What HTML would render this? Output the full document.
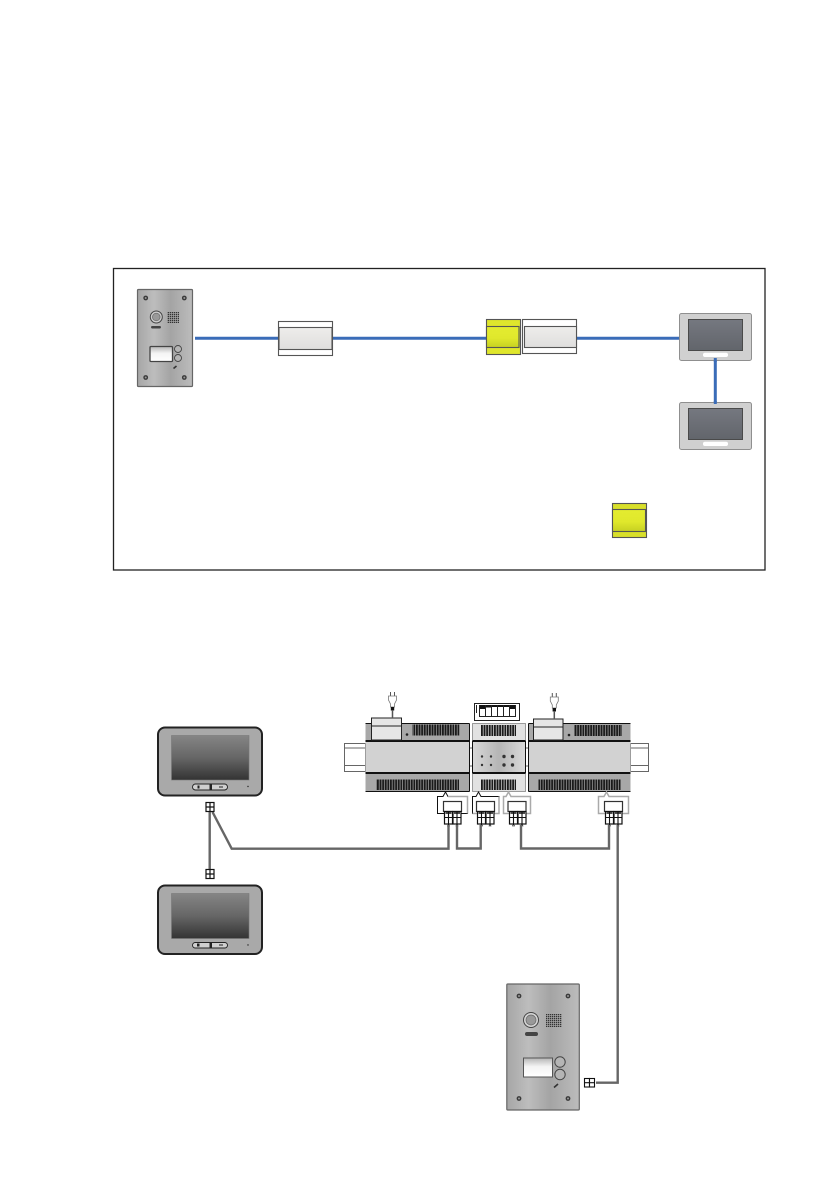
<!DOCTYPE html>
<html><head><meta charset="utf-8"><title>Wiring diagram</title>
<style>html,body{margin:0;padding:0;background:#fff}svg{display:block}</style></head>
<body>
<svg xmlns="http://www.w3.org/2000/svg" width="840" height="1192" viewBox="0 0 840 1192">
<defs>
<linearGradient id="steel" x1="0" x2="1" y1="0" y2="0"><stop offset="0" stop-color="#a6a6a6"/><stop offset=".3" stop-color="#bdbdbd"/><stop offset=".6" stop-color="#a4a4a4"/><stop offset="1" stop-color="#bcbcbc"/></linearGradient>
<linearGradient id="wg" x1="0" x2="0" y1="0" y2="1"><stop offset="0" stop-color="#eeedeb"/><stop offset="1" stop-color="#dfdedd"/></linearGradient>
<linearGradient id="pl" x1="0" x2="0" y1="0" y2="1"><stop offset="0" stop-color="#b5b5b5"/><stop offset=".45" stop-color="#f4f4f4"/><stop offset="1" stop-color="#ffffff"/></linearGradient>
<linearGradient id="yg" x1="0" x2="0" y1="0" y2="1"><stop offset="0" stop-color="#e4ec30"/><stop offset=".55" stop-color="#e0e82c"/><stop offset="1" stop-color="#c6d022"/></linearGradient>
<linearGradient id="sg" x1="0" x2="0" y1="0" y2="1"><stop offset="0" stop-color="#757880"/><stop offset="1" stop-color="#62656b"/></linearGradient>
<linearGradient id="dk" x1="0" x2="0" y1="0" y2="1"><stop offset="0" stop-color="#858585"/><stop offset=".5" stop-color="#666"/><stop offset="1" stop-color="#333"/></linearGradient>
<linearGradient id="mid" x1="0" x2="1" y1="0" y2="0"><stop offset="0" stop-color="#d8d8d8"/><stop offset=".5" stop-color="#b5b5b5"/><stop offset="1" stop-color="#dadada"/></linearGradient>
<pattern id="vent" width="2.6" height="4" patternUnits="userSpaceOnUse"><rect width="1.900" height="4" fill="#1a1a1a"/></pattern>
<pattern id="gr" width="2" height="2" patternUnits="userSpaceOnUse"><rect width="1.300" height="1.300" fill="#333"/></pattern>
<g id="screw"><circle r="2.400" fill="#3a3a3a"/><circle r="1" fill="#999"/></g>
<g id="term" fill="#fff" stroke="#111" stroke-width="1.200">
<rect x="0" y="0" width="8" height="12.500"/><rect x="8.500" y="0" width="8" height="12.500"/>
<path d="M0 6h8M8.500 6h8M4 0v12.500M12.500 0v12.500" stroke-width="1.100"/>
<path d="M1 1.500h6M9.500 1.500h6" stroke-width="1.400"/>
<path d="M4 12.500l-1 2h2zM12.500 12.500l-1 2h2z" stroke-width=".6"/>
</g>
<g id="conn" fill="#fff" stroke="#111" stroke-width="1.200"><rect x="0" y="0" width="8" height="9"/><path d="M4 0v9M0 4.500h8"/></g>
<g id="plug" fill="none"><path d="M-2 0v4M2 0v4" stroke="#555" stroke-width="1"/><path d="M-4 4h8v4l-2 4v3h-4v-3l-2-4z" fill="#fff" stroke="#777" stroke-width=".8"/><rect x="-1.700" y="15" width="3.400" height="3.500" fill="#111"/><path d="M0 18v8" stroke="#555" stroke-width="1.500"/></g>
</defs>

<rect x="113.500" y="268.500" width="651.500" height="301.500" fill="#fff" stroke="#222" stroke-width="1.300"/>

<!-- blue lines -->
<g stroke="#3a6cb8" stroke-width="3" fill="none">
<path d="M195 338.300H280M332 338.300H487M576 338.300H681M715.300 359V404"/>
</g>

<!-- small door panel -->
<rect x="137.500" y="289.500" width="55" height="97" rx="1" fill="url(#steel)" stroke="#666" stroke-width="1.200"/>
<use href="#screw" x="145.700" y="298"/><use href="#screw" x="184.300" y="298"/><use href="#screw" x="145.700" y="377.500"/><use href="#screw" x="184.300" y="377.500"/>
<circle cx="156.300" cy="317" r="6" fill="#ccc" stroke="#444"/><circle cx="156.300" cy="317" r="3.800" fill="#999" stroke="#666" stroke-width=".7"/>
<rect x="167" y="312" width="12" height="11" fill="url(#gr)"/>
<rect x="151" y="326" width="10" height="2.500" rx="1.200" fill="#444"/>
<rect x="150" y="346.500" width="22.500" height="15" rx="1" fill="url(#pl)" stroke="#444" stroke-width="1.300"/>
<circle cx="178" cy="349" r="3.500" fill="#b5b5b5" stroke="#444" stroke-width=".9"/><circle cx="178" cy="358" r="3.500" fill="#b5b5b5" stroke="#444" stroke-width=".9"/>
<path d="M173.500 368.500l3-2.500" stroke="#333" stroke-width="1.600"/>

<!-- white box 1 -->
<rect x="278.500" y="321.500" width="54" height="34" fill="#fff" stroke="#555" stroke-width="1.100"/>
<rect x="279" y="327.500" width="53" height="22" fill="url(#wg)" stroke="#555" stroke-width="1.100"/>

<!-- yellow + white pair -->
<rect x="486.500" y="319.500" width="34" height="35" fill="#dfe62c" stroke="#555" stroke-width="1.100"/>
<rect x="486.500" y="326.500" width="32.500" height="21" fill="url(#yg)" stroke="#555" stroke-width="1.100"/>
<rect x="522.500" y="319.500" width="54" height="34" fill="#fff" stroke="#555" stroke-width="1.100"/>
<rect x="524.500" y="326.500" width="52" height="21" fill="url(#wg)" stroke="#555" stroke-width="1.100"/>

<!-- monitors top -->
<rect x="679.500" y="313.500" width="72" height="47" rx="2" fill="#d0d0d0" stroke="#8f8f8f" stroke-width="1"/>
<rect x="688.500" y="319.500" width="54" height="31" fill="url(#sg)" stroke="#4a4a4a" stroke-width="1"/>
<rect x="703" y="352.700" width="25" height="4.300" rx="2" fill="#fff"/>
<rect x="679.500" y="402.500" width="72" height="47" rx="2" fill="#d0d0d0" stroke="#8f8f8f" stroke-width="1"/>
<rect x="688.500" y="408.500" width="54" height="31" fill="url(#sg)" stroke="#4a4a4a" stroke-width="1"/>
<rect x="703" y="441.700" width="25" height="4.300" rx="2" fill="#fff"/>
<path d="M715.300 358V362M715.300 401V404" stroke="#3a6cb8" stroke-width="3"/>

<!-- yellow 2 -->
<rect x="612.500" y="503.500" width="34" height="34" fill="#d8df2a" stroke="#555" stroke-width="1.100"/>
<rect x="612.500" y="509.500" width="33" height="22" fill="url(#yg)" stroke="#555" stroke-width="1.100"/>

<!-- LOWER: rails -->
<g fill="#fff" stroke="#666" stroke-width="1">
<rect x="344.500" y="743.500" width="21" height="28"/><path d="M344.500 748H365M344.500 765.500H365" fill="none"/>
<rect x="630.500" y="743.500" width="18" height="28"/><path d="M630.500 748H648M630.500 765.500H648" fill="none"/>
<path d="M469 748H473M469 766H473M525 748H529M525 766H529" fill="none"/>
</g>

<!-- left module -->
<rect x="365.500" y="723.500" width="104" height="68" fill="#a8a8a8"/>
<rect x="365.500" y="741" width="104" height="32" fill="#d2d2d2"/>
<path d="M365.500 723.500H469.500M365.500 791.500H469.500" stroke="#111" stroke-width="1"/>
<path d="M365.500 741H469.500M365.500 773H469.500" stroke="#111" stroke-width="2"/>
<path d="M469.500 723.500V791.500" stroke="#111" stroke-width="1"/>
<rect x="412.300" y="724.500" width="47" height="11" fill="url(#vent)"/>
<rect x="376" y="779.500" width="83" height="10.500" fill="url(#vent)"/>
<circle cx="407" cy="734.500" r="1.300" fill="#222"/>
<rect x="371.500" y="718" width="30" height="22" fill="#e6e6e6" stroke="#222" stroke-width="1"/><path d="M371.500 726H401.500" stroke="#222" stroke-width="1"/>
<use href="#plug" x="392.500" y="692"/>

<!-- middle module -->
<rect x="472.500" y="723.500" width="53" height="68" fill="#e2e2e2" stroke="#777" stroke-width=".7"/>
<rect x="472.500" y="741" width="53" height="32" fill="url(#mid)"/>
<path d="M472.500 741H525.500M472.500 773H525.500" stroke="#111" stroke-width="2"/>
<path d="M472.500 741V773M525.500 741V773" stroke="#111" stroke-width="1"/>
<rect x="481" y="725" width="35" height="11" fill="url(#vent)"/>
<rect x="481" y="779.500" width="35" height="10.500" fill="url(#vent)"/>
<g fill="#333"><circle cx="482" cy="756.500" r="1.200"/><circle cx="491" cy="756.500" r="1.200"/><circle cx="504" cy="756.500" r="1.700"/><circle cx="512.500" cy="756.500" r="1.700"/><circle cx="482" cy="765" r="1.200"/><circle cx="491" cy="765" r="1.200"/><circle cx="504" cy="765" r="1.700"/><circle cx="512.500" cy="765" r="1.700"/></g>
<rect x="474.500" y="703.500" width="45" height="17" fill="#fff" stroke="#222" stroke-width="1"/>
<g fill="#fff" stroke="#222" stroke-width="1"><rect x="479.500" y="705.500" width="6" height="11"/><rect x="485.500" y="705.500" width="6" height="11"/><rect x="491.500" y="705.500" width="6" height="11"/><rect x="497.500" y="705.500" width="6" height="11"/><rect x="503.500" y="705.500" width="6" height="11"/><rect x="509.500" y="705.500" width="6" height="11"/></g>
<path d="M476.500 705v8" stroke="#222"/>
<g fill="#111"><rect x="480" y="705" width="5" height="4"/><rect x="486" y="705" width="5" height="2.500"/><rect x="492" y="705" width="5" height="2"/><rect x="498" y="705" width="5" height="2"/><rect x="504" y="705" width="5" height="2"/><rect x="510" y="705" width="5" height="4"/></g>

<!-- right module -->
<rect x="528.500" y="723.500" width="102" height="68" fill="#a8a8a8"/>
<rect x="528.500" y="741" width="102" height="32" fill="#d2d2d2"/>
<path d="M528.500 723.500H630.500M528.500 791.500H630.500" stroke="#111" stroke-width="1"/>
<path d="M528.500 741H630.500M528.500 773H630.500" stroke="#111" stroke-width="2"/>
<path d="M528.500 723.500V791.500" stroke="#111" stroke-width="1"/>
<rect x="574" y="725" width="48" height="11" fill="url(#vent)"/>
<rect x="538.500" y="779.500" width="82" height="10.500" fill="url(#vent)"/>
<circle cx="569" cy="735" r="1.300" fill="#222"/>
<rect x="533.500" y="719" width="29.500" height="21" fill="#e6e6e6" stroke="#222" stroke-width="1"/><path d="M533.500 727H563" stroke="#222" stroke-width="1"/>
<use href="#plug" x="554.300" y="693"/>

<!-- callouts -->
<g fill="#fff" stroke-width="1">
<path d="M437.500 796.500H443L445.500 792L448 796.500H467.500V813.500H437.500Z" stroke="#111"/>
<path d="M448 796.500H467.500V813.500" fill="none" stroke="#aaa" stroke-width="1.500"/>
<path d="M472.500 796.500H476L478.500 792L481 796.500H499V813.500H472.500Z" stroke="#111"/>
<path d="M472.500 813.500H499V796.500" fill="none" stroke="#aaa" stroke-width="1.500"/>
<path d="M503.500 796.500H506L508.500 792L511 796.500H530.500V813.500H503.500Z" stroke="#aaa" stroke-width="1.500"/>
<path d="M598.500 796.500H604L606.500 792L609 796.500H628.500V813.500H598.500Z" stroke="#aaa" stroke-width="1.500"/>
<g stroke="#333" stroke-width="1.200">
<rect x="443.500" y="801.500" width="18" height="10"/>
<rect x="476.500" y="801.500" width="18" height="10"/>
<rect x="508" y="801.500" width="18" height="10"/>
<rect x="604.500" y="801.500" width="18" height="10"/>
</g>
</g>
<use href="#term" x="444.500" y="811.500"/><use href="#term" x="477.500" y="811.500"/><use href="#term" x="509.500" y="811.500"/><use href="#term" x="605.500" y="811.500"/>

<!-- wires -->
<g fill="none" stroke="#666" stroke-width="2.400">
<path d="M209.700 811V869"/>
<path d="M212.500 812L231.700 848.700H448.500V825"/>
<path d="M457 825V848.500H480.700V825"/>
<path d="M521 825V848.500H609V825"/>
<path d="M617.700 825V1082.700H596"/>
</g>

<!-- lower monitors -->
<rect x="158" y="727.500" width="104" height="68" rx="7" fill="#a9a9a9" stroke="#222" stroke-width="2"/>
<rect x="171.500" y="735.500" width="77.500" height="44.500" fill="url(#dk)" stroke="#777" stroke-width=".6"/>
<rect x="192.500" y="784" width="35" height="6" rx="3" fill="#cfcfcf" stroke="#222" stroke-width=".9"/>
<rect x="197.500" y="785.500" width="2" height="3" fill="#222"/><rect x="209.500" y="784" width="2.500" height="6" fill="#222"/><path d="M219 787h4" stroke="#222"/>
<circle cx="248" cy="786.500" r=".7" fill="#222"/>
<rect x="158" y="885.500" width="104" height="68.500" rx="7" fill="#a9a9a9" stroke="#222" stroke-width="2"/>
<rect x="171.500" y="893.500" width="77.500" height="45" fill="url(#dk)" stroke="#777" stroke-width=".6"/>
<rect x="192.500" y="942.500" width="35" height="5.500" rx="2.700" fill="#cfcfcf" stroke="#222" stroke-width=".9"/>
<rect x="197" y="943.500" width="2.500" height="3" fill="#222"/><rect x="209.500" y="942.500" width="2.500" height="5.500" fill="#222"/><path d="M219 945h4" stroke="#222"/>
<circle cx="248" cy="945" r=".7" fill="#222"/>
<use href="#conn" x="206" y="802.500"/><use href="#conn" x="206" y="869.500"/>

<!-- large door panel -->
<rect x="506.800" y="984" width="72.500" height="126" rx="1" fill="url(#steel)" stroke="#666" stroke-width="1.200"/>
<use href="#screw" x="519" y="996"/><use href="#screw" x="568" y="996"/><use href="#screw" x="519" y="1098.500"/><use href="#screw" x="568" y="1098.500"/>
<circle cx="531" cy="1020" r="7.500" fill="#d4d4d4" stroke="#444"/><circle cx="531" cy="1020" r="5" fill="#999" stroke="#666" stroke-width=".7"/>
<rect x="546" y="1014" width="16" height="13" fill="url(#gr)"/>
<rect x="525" y="1032" width="13" height="4" rx="2" fill="#444"/>
<rect x="523.500" y="1058" width="29" height="19" fill="url(#pl)" stroke="#555" stroke-width="1"/>
<circle cx="560" cy="1062" r="5.200" fill="#b5b5b5" stroke="#444" stroke-width="1"/><circle cx="560" cy="1074.500" r="5.200" fill="#b5b5b5" stroke="#444" stroke-width="1"/>
<path d="M554 1087.500l4-3.500" stroke="#333" stroke-width="1.600"/>
<g transform="translate(584.500 1078.500)" fill="#fff" stroke="#111" stroke-width="1.100"><rect width="5" height="8.500"/><rect x="5" width="5" height="8.500"/><path d="M0 4.200h10"/></g>
</svg>
</body></html>
